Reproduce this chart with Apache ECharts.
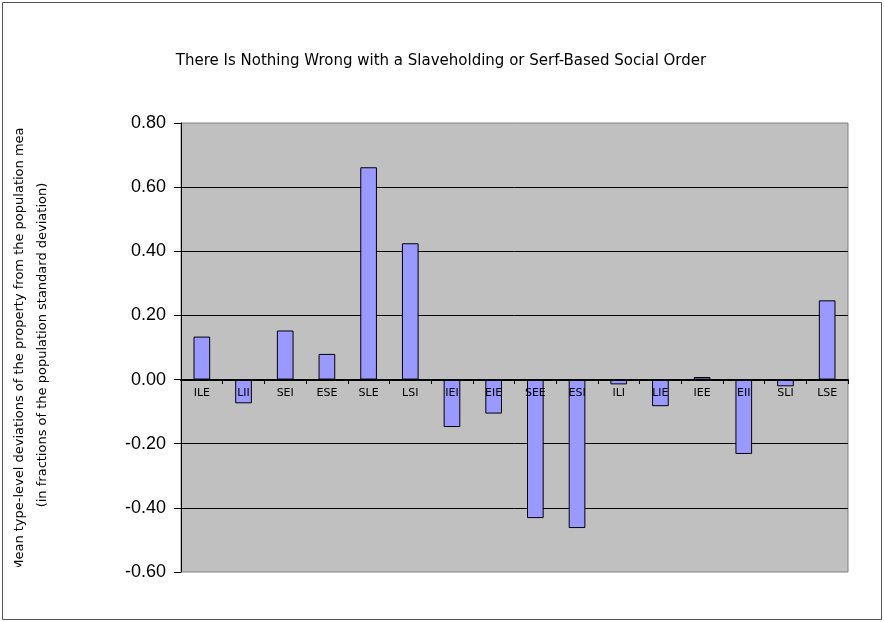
<!DOCTYPE html>
<html>
<head>
<meta charset="utf-8">
<script src="https://cdn.jsdelivr.net/npm/echarts@6/dist/echarts.min.js"></script>
<style>html,body{margin:0;padding:0;background:#fff}#c{width:884px;height:622px}</style>
</head>
<body>
<div id="c"></div>
<script>
const titleText = "There Is Nothing Wrong with a Slaveholding or Serf-Based Social Order";
const yNameLine1 = "Mean type-level deviations of the property from the population mean";
const yNameLine2 = "(in fractions of the population standard deviation)";
const categories = ["ILE","LII","SEI","ESE","SLE","LSI","IEI","EIE","SEE","ESI","ILI","LIE","IEE","EII","SLI","LSE"];
const values = [0.134, -0.074, 0.153, 0.080, 0.662, 0.425, -0.148, -0.106, -0.432, -0.463, -0.015, -0.083, 0.008, -0.232, -0.021, 0.247];
const yMin = -0.6, yMax = 0.8, yStep = 0.2;

const gridTop = 123, gridBottom = 50, chartH = 622;
const plotH = chartH - gridTop - gridBottom;
const zeroOffset = plotH * (0 - yMin) / (yMax - yMin);

const chart = echarts.init(document.getElementById('c'), null, {renderer:'canvas'});
chart.setOption({
  animation: false,
  backgroundColor: '#ffffff',
  title: {
    text: titleText, left: 436, top: 49, textAlign: 'center',
    textStyle: {fontFamily: 'DejaVu Sans', fontSize: 15, fontWeight: 'normal', color: '#000'}
  },
  graphic: [
    {type: 'text', x: 20, y: 345, rotation: Math.PI/2, z: 1, style: {text: yNameLine1, fontFamily: 'DejaVu Sans', fontSize: 13, fill: '#000', align: 'center', verticalAlign: 'middle'}},
    {type: 'text', x: 43, y: 345, rotation: Math.PI/2, z: 1, style: {text: yNameLine2, fontFamily: 'DejaVu Sans', fontSize: 13, fill: '#000', align: 'center', verticalAlign: 'middle'}},
    {type: 'rect', z: 5, shape: {x: 6, y: 4, width: 28, height: 123}, style: {fill: '#fff'}, silent: true},
    {type: 'rect', z: 5, shape: {x: 6, y: 567, width: 28, height: 50}, style: {fill: '#fff'}, silent: true},
    {type: 'rect', z: 6, shape: {x: 2.5, y: 2.5, width: 879, height: 617}, style: {fill: 'none', stroke: '#555', lineWidth: 1}, silent: true}
  ],
  grid: {left: 181, right: 36, top: gridTop, bottom: gridBottom, show: true, backgroundColor: '#C0C0C0', borderColor: '#808080', borderWidth: 1},
  xAxis: {
    type: 'category', data: categories, z: 5, position: 'bottom',
    offset: -Math.round(zeroOffset),
    axisLine: {onZero: false, lineStyle: {color: '#000', width: 2}},
    axisTick: {show: true, inside: false, length: 4, alignWithLabel: false, lineStyle: {color: '#000'}},
    axisLabel: {margin: 8, fontFamily: 'DejaVu Sans', fontSize: 11, color: '#000', interval: 0},
    splitLine: {show: false}
  },
  yAxis: {
    type: 'value', min: yMin, max: yMax, interval: yStep,
    axisLine: {show: true, lineStyle: {color: '#000', width: 1}},
    axisTick: {show: true, length: 7, lineStyle: {color: '#000'}},
    axisLabel: {margin: 15, fontFamily: 'Liberation Sans', fontSize: 18, color: '#000', formatter: v => v.toFixed(2)},
    splitLine: {show: true, showMinLine: false, showMaxLine: false, lineStyle: {color: '#000', width: 1}}
  },
  series: [{
    type: 'bar', data: values, barWidth: '40%',
    itemStyle: {color: '#9999FF', borderColor: '#000', borderWidth: 1}
  }]
});
</script>
</body>
</html>
